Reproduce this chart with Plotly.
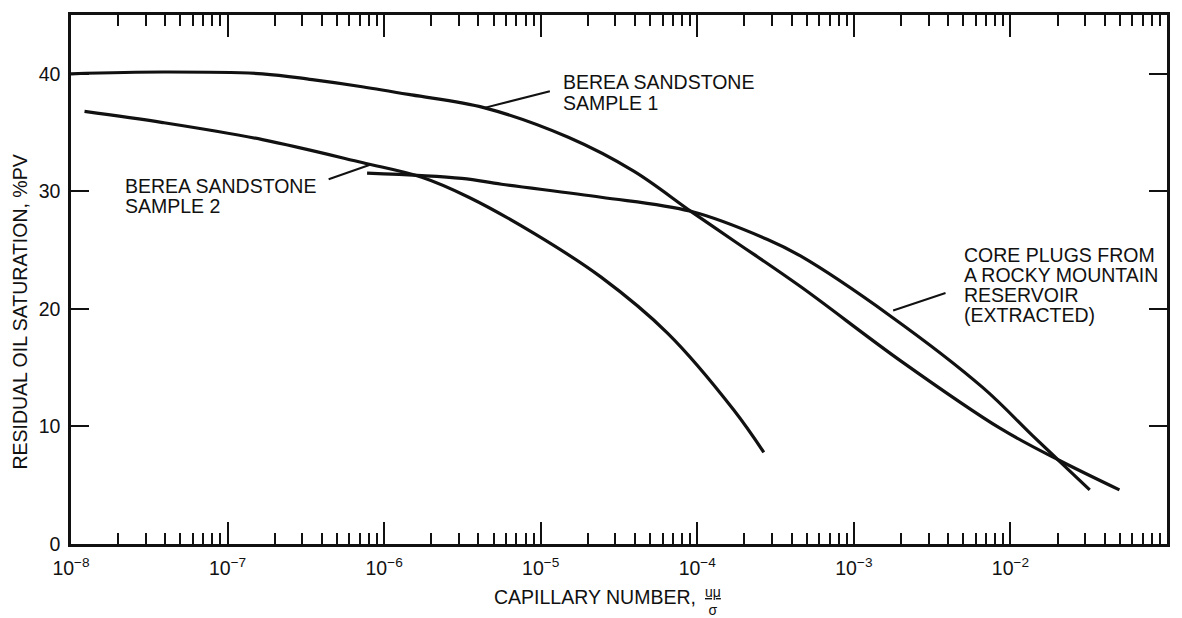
import plotly.graph_objects as go

# ---------------- data ----------------
# Berea sandstone sample 1
s1_x = [1.00e-8, 3.86e-8, 1.67e-7, 3.47e-7, 7.23e-7, 1.50e-6, 4.39e-6, 1.50e-5,
        3.95e-5, 9.10e-5, 1.71e-4, 4.56e-4, 1.98e-3, 8.57e-3, 2.06e-2, 4.97e-2]
s1_y = [40.0, 40.15, 40.0, 39.5, 38.9, 38.2, 37.1, 34.6,
        31.7, 28.3, 25.8, 21.9, 15.6, 9.85, 7.1, 4.6]

# Berea sandstone sample 2
s2_x = [1.22e-8, 3.86e-8, 1.67e-7, 7.23e-7, 1.74e-6, 3.47e-6, 9.12e-6,
        2.43e-5, 6.50e-5, 1.71e-4, 2.66e-4]
s2_y = [36.8, 35.85, 34.4, 32.45, 31.2, 29.5, 26.4,
        22.7, 17.9, 11.4, 7.8]

# Core plugs from a Rocky Mountain reservoir (extracted)
cp_x = [7.78e-7, 3.13e-6, 5.62e-6, 2.43e-5, 9.10e-5, 2.81e-4, 4.56e-4,
        1.71e-3, 6.67e-3, 1.39e-2, 2.15e-2, 3.21e-2]
cp_y = [31.55, 31.1, 30.6, 29.5, 28.3, 25.9, 24.5,
        19.4, 13.3, 9.2, 6.8, 4.6]

x_decades = [-8, -7, -6, -5, -4, -3, -2, -1]
x_ticktext = ["10<sup>\u2212%d</sup>" % (-e) for e in x_decades]
y_tickvals = [0, 10, 20, 30, 40]
y_ticktext = ["0", "10", "20", "30", "40"]

# ---------------- figure ----------------
FONT = "Liberation Sans, Arial, Helvetica, sans-serif"
INK = "#111111"

fig = go.Figure()
for xs, ys in [(s1_x, s1_y), (s2_x, s2_y), (cp_x, cp_y)]:
    fig.add_trace(go.Scatter(
        x=xs, y=ys, mode="lines",
        line=dict(color=INK, width=3.2, shape="spline", smoothing=1.0),
        showlegend=False, hoverinfo="skip"))

x_tickvals = [10.0 ** e for e in x_decades]
minor_vals = [k * 10.0 ** e for e in x_decades[:-1] for k in range(2, 10)]

fig.update_layout(
    width=1182, height=618, autosize=False,
    margin=dict(l=71, r=13, t=14, b=74),
    paper_bgcolor="white", plot_bgcolor="white",
    font=dict(family=FONT, color=INK),
    showlegend=False,
)

TICKFONT = dict(size=19.5, color=INK, family=FONT)

fig.update_xaxes(
    type="log", range=[-8, -1],
    tickmode="array", tickvals=x_tickvals, ticktext=x_ticktext,
    ticks="inside", ticklen=22, tickwidth=2, tickcolor=INK,
    showline=True, linewidth=2.5, linecolor=INK, mirror="ticks",
    showgrid=False, zeroline=False,
    tickfont=TICKFONT, ticklabelstandoff=5,
    minor=dict(tickmode="array", tickvals=minor_vals, ticks="inside",
               ticklen=11, tickwidth=2, tickcolor=INK, showgrid=False),
)
fig.update_yaxes(
    range=[0, 45],
    tickmode="array", tickvals=y_tickvals, ticktext=y_ticktext,
    ticks="inside", ticklen=18, tickwidth=2, tickcolor=INK,
    showline=True, linewidth=2.5, linecolor=INK, mirror="ticks",
    showgrid=False, zeroline=False,
    tickfont=TICKFONT, ticklabelstandoff=4,
)

LBL = dict(size=19.5, color=INK, family=FONT)

def label_lines(lines, x_log, y_centers):
    for txt, yc in zip(lines, y_centers):
        fig.add_annotation(x=x_log, y=yc, xref="x", yref="y", text=txt,
                           showarrow=False, xanchor="left", yanchor="middle",
                           font=LBL)

def pointer(head, tail):
    fig.add_annotation(x=head[0], y=head[1], xref="x", yref="y",
                       ax=tail[0], ay=tail[1], axref="x", ayref="y",
                       text="", showarrow=True, arrowhead=0, arrowwidth=2,
                       arrowcolor=INK, standoff=0, startstandoff=0)

label_lines(["BEREA SANDSTONE", "SAMPLE 1"], -4.868, [39.26, 37.52])
pointer((-5.36, 37.1), (-4.932, 38.54))

label_lines(["BEREA SANDSTONE", "SAMPLE 2"], -7.669, [30.48, 28.78])
pointer((-6.090, 32.26), (-6.364, 30.98))

label_lines(["CORE PLUGS FROM", "A ROCKY MOUNTAIN", "RESERVOIR", "(EXTRACTED)"],
            -2.310, [24.62, 22.92, 21.22, 19.52])
pointer((-2.749, 19.86), (-2.405, 21.39))

# axis titles
fig.add_annotation(xref="paper", yref="paper", x=-0.0464, y=0.4377,
                   text="RESIDUAL OIL SATURATION, %PV", textangle=-90,
                   showarrow=False, xanchor="center", yanchor="middle",
                   font=dict(size=19.5, color=INK, family=FONT))
fig.add_annotation(xref="paper", yref="paper", x=0.4781, y=-0.100,
                   text="CAPILLARY NUMBER,", showarrow=False,
                   xanchor="center", yanchor="middle",
                   font=dict(size=19.5, color=INK, family=FONT))
fig.add_annotation(xref="paper", yref="paper", x=0.5855, y=-0.108,
                   text="<u>u\u03bc</u><br>\u03c3", showarrow=False,
                   xanchor="center", yanchor="middle",
                   font=dict(size=14, color=INK, family=FONT))

fig.write_html("out.html")
